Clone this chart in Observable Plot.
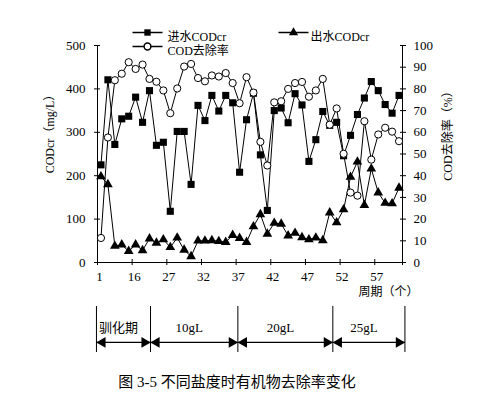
<!DOCTYPE html>
<html>
<head>
<meta charset="utf-8">
<script src="https://cdn.jsdelivr.net/npm/d3@7"></script>
<script src="https://cdn.jsdelivr.net/npm/@observablehq/plot@0.6"></script>
<style>
  html, body { margin: 0; padding: 0; background: #fff; }
  #wrap { position: relative; width: 481px; height: 397px; overflow: hidden; background: #fff; }
  #wrap svg { display: block; }
  #caption { position: absolute; left: 0; width: 474px; top: 370px; text-align: center;
    font-family: "Liberation Serif", "Noto Sans CJK SC", serif; font-size: 15px; color: #000; }
</style>
</head>
<body>
<div id="wrap"><div id="caption"></div></div>
<script>
// ---- data ----
const influent = [225,421,272,331,337,381,323,396,270,277,118,302,302,180,362,327,385,349,385,368,208,329,390,248,120,350,356,322,389,363,233,283,348,316,323,246,293,341,379,417,396,364,344,385];
const effluent = [198,180,38,41,26,41,28,55,45,53,35,57,29,14,50,50,51,49,47,63,56,47,83,111,66,91,89,62,68,58,53,57,51,115,92,122,197,232,132,216,161,137,136,172];
const removal = [11.3,57.6,84,87,92.3,89.2,91.2,84.6,83.3,79.3,68.8,80.2,90.3,91.5,85,83.5,86.2,85.7,87.3,82.7,73.4,85.4,78.3,55.6,44.7,73.8,74.3,80,82.7,83.2,76.4,79.3,84.6,63.5,71,50.1,32.2,30.8,65.1,47.4,59,62.1,60.3,55.9];
const xTickLabels = ["1","16","27","32","37","42","47","52","57"];
const leftTicks = [0,100,200,300,400,500];
const rightTicks = [0,10,20,30,40,50,60,70,80,90,100];
const legendLabels = ["进水CODcr","出水CODcr","COD去除率"];
const phaseLabels = ["驯化期","10gL","20gL","25gL"];
const phaseBounds = [-0.65, 7.15, 19.75, 33.45, 43.85];
const leftTitle = "CODcr（mg/L）";
const rightTitle = "COD去除率（%）";
const xTitle = "周期（个）";
const captionText = "图 3-5 不同盐度时有机物去除率变化";

// ---- derived tables ----
const n = influent.length;
const k = 500 / 100; // right axis (%) mapped onto left axis (mg/L)
const data = influent.map((v, i) => ({i, inf: v, eff: effluent[i], rem: removal[i] * k}));
const xTickPos = xTickLabels.map((_, j) => j * 5 - 0.5);
const labelOf = new Map(xTickPos.map((p, j) => [p, xTickLabels[j]]));
const segments = phaseLabels.map((t, j) => ({t, a: phaseBounds[j], b: phaseBounds[j + 1]}));

const font = "'Liberation Serif','Noto Sans CJK SC',serif";
const lineSym = {draw(ctx) { ctx.moveTo(-15, 0); ctx.lineTo(15, 0); }};
const xDomain = [-0.5, n - 0.5];

const main = Plot.plot({
  width: 481, marginLeft: 97, marginRight: 79,
  height: 305, marginTop: 45, marginBottom: 43,
  x: {domain: xDomain},
  y: {domain: [0, 500]},
  style: {fontFamily: font, fontSize: "13px", color: "black", background: "white", overflow: "visible"},
  marks: [
    Plot.ruleX([-0.5, n - 0.5], {stroke: "black"}),
    Plot.ruleY([0], {stroke: "black"}),
    Plot.axisY(leftTicks, {anchor: "left", tickSize: 6, dx: 3, tickPadding: 9, label: null}),
    Plot.axisY(rightTicks.map(d => d * k), {anchor: "right", tickSize: 6, dx: -3, tickPadding: 8, tickFormat: d => d / k, label: null}),
    Plot.axisX(xTickPos.concat([n - 0.5]), {anchor: "bottom", tickSize: 6, dy: -3, tickFormat: () => "", label: null}),
    Plot.axisX(xTickPos, {anchor: "bottom", tickSize: 0, tickPadding: 9, dx: 2, tickFormat: d => labelOf.get(d), label: null}),
    Plot.text([leftTitle], {frameAnchor: "left", textAnchor: "middle", rotate: -90, dx: -47, dy: -23, fontSize: 12}),
    Plot.text([rightTitle], {frameAnchor: "right", textAnchor: "middle", rotate: -90, dx: 46, dy: -21, fontSize: 12}),
    Plot.text([xTitle], {frameAnchor: "bottom-right", textAnchor: "start", dx: -44, dy: 33, fontSize: 12}),
    // series
    Plot.line(data, {x: "i", y: "inf", stroke: "black", strokeWidth: 1}),
    Plot.dot(data, {x: "i", y: "inf", symbol: "square", fill: "black", r: 4}),
    Plot.line(data, {x: "i", y: "eff", stroke: "black", strokeWidth: 1}),
    Plot.dot(data, {x: "i", y: "eff", symbol: "triangle", fill: "black", r: 3.6}),
    Plot.line(data, {x: "i", y: "rem", stroke: "black", strokeWidth: 1}),
    Plot.dot(data, {x: "i", y: "rem", fill: "white", stroke: "black", strokeWidth: 1, r: 3.6}),
    // legend
    Plot.dot([0], {frameAnchor: "top-left", dx: 50, dy: -13, symbol: lineSym, stroke: "black", fill: "none"}),
    Plot.dot([0], {frameAnchor: "top-left", dx: 50, dy: -13, symbol: "square", fill: "black", r: 3.6}),
    Plot.text([legendLabels[0]], {frameAnchor: "top-left", dx: 70, dy: -13, textAnchor: "start", fontSize: 12}),
    Plot.dot([0], {frameAnchor: "top-left", dx: 196, dy: -13, symbol: lineSym, stroke: "black", fill: "none"}),
    Plot.dot([0], {frameAnchor: "top-left", dx: 196, dy: -13, symbol: "triangle", fill: "black", r: 3.4}),
    Plot.text([legendLabels[1]], {frameAnchor: "top-left", dx: 213, dy: -13, textAnchor: "start", fontSize: 12}),
    Plot.dot([0], {frameAnchor: "top-left", dx: 50, dy: 1, symbol: lineSym, stroke: "black", fill: "none"}),
    Plot.dot([0], {frameAnchor: "top-left", dx: 50, dy: 1, fill: "white", stroke: "black", r: 3.4}),
    Plot.text([legendLabels[2]], {frameAnchor: "top-left", dx: 70, dy: 1, textAnchor: "start", fontSize: 12})
  ]
});

const phases = Plot.plot({
  width: 481, marginLeft: 97, marginRight: 79,
  height: 55, marginTop: 1, marginBottom: 8,
  x: {domain: xDomain, axis: null},
  y: {domain: [0, 1], axis: null},
  style: {fontFamily: font, fontSize: "13px", color: "black", background: "transparent", overflow: "visible"},
  marks: [
    Plot.ruleX(phaseBounds, {x: d => d, stroke: "black", strokeWidth: 1}),
    Plot.link(segments, {x1: "a", x2: "b", y1: () => 0.22, y2: () => 0.22, stroke: "black", strokeWidth: 1.3}),
    Plot.dot(segments, {x: "a", y: () => 0.22, symbol: "triangle", rotate: -90, dx: 6, r: 4, fill: "black"}),
    Plot.dot(segments, {x: "b", y: () => 0.22, symbol: "triangle", rotate: 90, dx: -6, r: 4, fill: "black"}),
    Plot.text(segments, {x: d => (d.a + d.b) / 2, y: () => 0.54, text: "t", dx: -5, fontSize: 13})
  ]
});

const wrap = document.getElementById("wrap");
wrap.insertBefore(phases, wrap.firstChild);
wrap.insertBefore(main, wrap.firstChild);
document.getElementById("caption").textContent = captionText;
</script>
</body>
</html>
